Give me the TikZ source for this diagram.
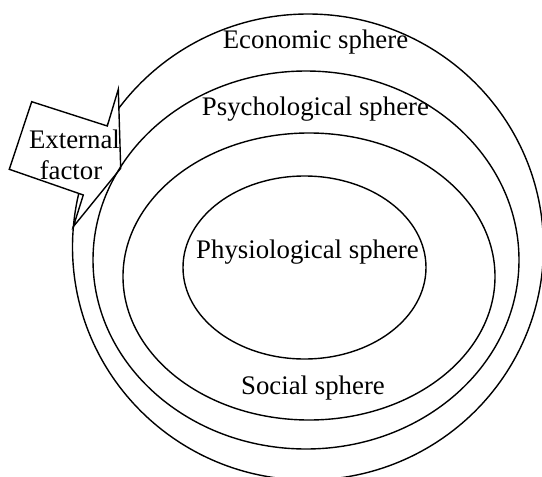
\documentclass[tikz,border=0pt]{standalone}
\usepackage{fontspec}
\setmainfont{Liberation Serif}
\begin{document}
\begin{tikzpicture}[x=1pt,y=-1pt,
  ring/.style={line width=1.4pt},
  callout/.style={line width=1.4pt, fill=white, line join=miter},
  lbl/.style={font=\fontsize{26.8}{32}\selectfont, anchor=base, inner sep=0pt}]
\useasboundingbox (0,0) rectangle (542,477);
\clip (0,0) rectangle (542,477);
% outer ring (economic)
\draw[ring] (308,247) ellipse [x radius=235.5pt, y radius=233pt];
% callout for external factor
\draw[callout] (31.7,101.7) -- (107.3,126) -- (118.3,89.3) -- (120.7,168.3)
  -- (73.3,226.7) -- (83.3,195) -- (9.3,169.3) -- cycle;
% psychological
\draw[ring] (306,260) ellipse [x radius=213pt, y radius=189pt];
% social
\draw[ring] (309,276.5) ellipse [x radius=186pt, y radius=143.5pt];
% physiological
\draw[ring] (304.5,267.5) ellipse [x radius=121.5pt, y radius=91.5pt];
% labels
\node[lbl] (eco) at (315.5,48) {Economic sphere};
\node[lbl] (psy) at (315.5,115) {Psychological sphere};
\node[lbl] (phy) at (307.5,258) {Physiological sphere};
\node[lbl] (soc) at (313,394) {Social sphere};
\node[lbl] (ext1) at (74.5,148) {External};
\node[lbl] (ext2) at (71,179) {factor};
\end{tikzpicture}
\end{document}
